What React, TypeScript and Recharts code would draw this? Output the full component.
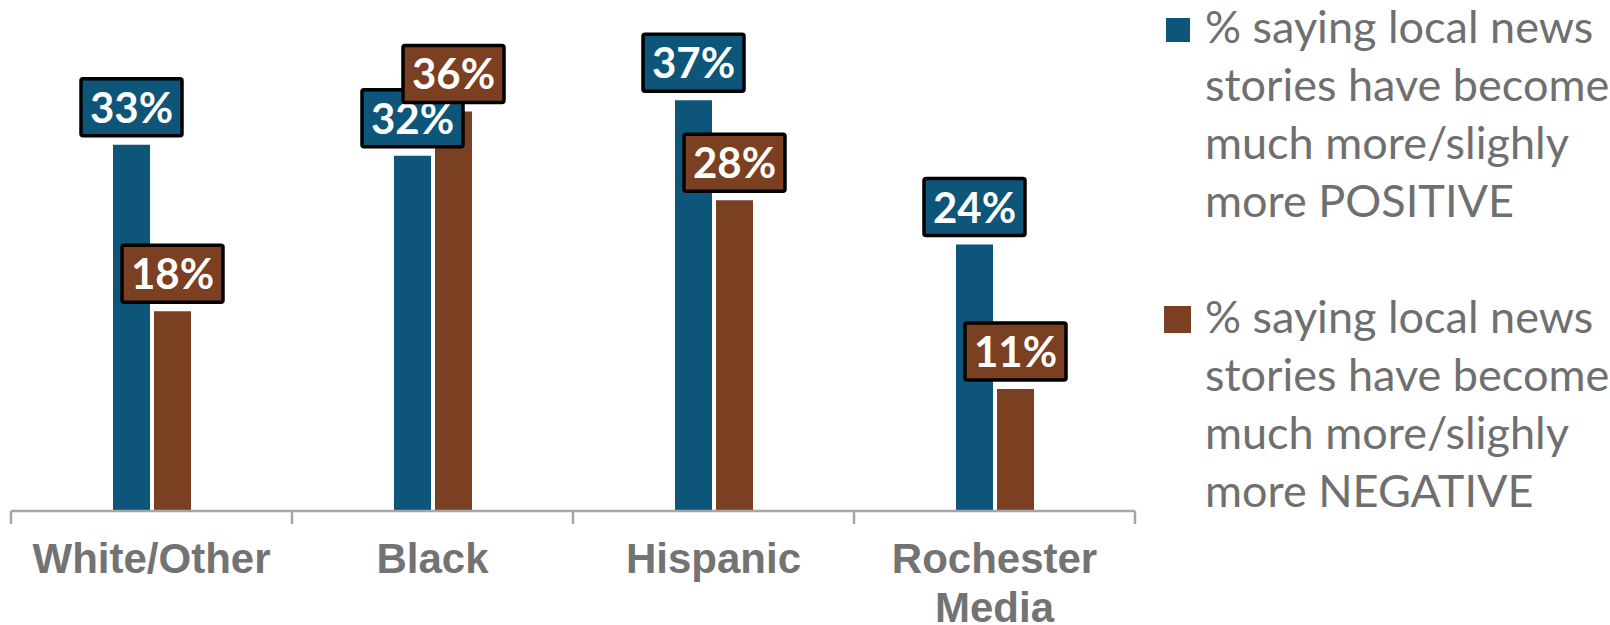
import React from 'react';
import { BarChart, Bar, XAxis, YAxis, Legend, LabelList } from 'recharts';

const categories = ['White/Other', 'Black', 'Hispanic', 'Rochester Media'];
const positiveValues = [33, 32, 37, 24];
const negativeValues = [18, 36, 28, 11];
const seriesNames = [
  '% saying local news stories have become much more/slighly more POSITIVE',
  '% saying local news stories have become much more/slighly more NEGATIVE',
];
const positiveLegendLines = ['% saying local news', 'stories have become', 'much more/slighly', 'more POSITIVE'];
const negativeLegendLines = ['% saying local news', 'stories have become', 'much more/slighly', 'more NEGATIVE'];

const BLUE = '#0D5579';
const BROWN = '#7B3F22';
const AXIS_GRAY = '#A6A6A6';
const BAR_GAP = 4;

const data = categories.map((name, i) => ({
  name,
  positive: positiveValues[i],
  negative: negativeValues[i],
}));

function LabelBox({ cx, top, value, fill }: { cx: number; top: number; value: number; fill: string }) {
  const w = 101;
  const h = 57;
  const y = top - 9 - h;
  return (
    <g>
      <rect x={cx - w / 2} y={y} width={w} height={h} rx={2} fill={fill} stroke="#000" strokeWidth={3.5} />
      <text
        x={cx}
        y={y + 44}
        textAnchor="middle"
        fill="#fff"
        fontFamily="Lato, 'Liberation Sans', sans-serif"
        fontWeight={700}
        fontSize={42}
      >
        {value}%
      </text>
    </g>
  );
}

// blue labels are drawn here too, so they sit above the brown bars
const renderLabels = (props: any) => {
  const { x, y, width, height, index, value } = props;
  const base = Number(y) + Number(height);
  const perUnit = Number(height) / Number(value);
  const blueVal = positiveValues[index];
  const blueCx = Number(x) - BAR_GAP - Number(width) / 2;
  return (
    <g>
      <LabelBox cx={blueCx} top={base - blueVal * perUnit} value={blueVal} fill={BLUE} />
      <LabelBox cx={Number(x) + Number(width) / 2} top={Number(y)} value={Number(value)} fill={BROWN} />
    </g>
  );
};

// tick label plus the tick marks on the category edges
const CategoryTick = (props: any) => {
  const { x, y, payload, index, width, visibleTicksCount } = props;
  const count = visibleTicksCount || categories.length;
  const half = Number(width) / count / 2;
  const lines = String(payload.value).split(' ');
  return (
    <g>
      <line x1={x - half} y1={y} x2={x - half} y2={y + 13} stroke={AXIS_GRAY} strokeWidth={2.5} />
      {index === count - 1 && (
        <line x1={x + half} y1={y} x2={x + half} y2={y + 13} stroke={AXIS_GRAY} strokeWidth={2.5} />
      )}
      <text
        x={x}
        textAnchor="middle"
        fill="#737373"
        fontFamily="'Liberation Sans', Arial, sans-serif"
        fontWeight={700}
        fontSize={42}
      >
        {lines.map((line, i) => (
          <tspan key={line} x={x} y={y + 62 + i * 49}>
            {line}
          </tspan>
        ))}
      </text>
    </g>
  );
};

const legendItems = [
  { lines: positiveLegendLines, color: BLUE, square: { x: 16, y: 18, size: 24 }, top: 43 },
  { lines: negativeLegendLines, color: BROWN, square: { x: 14, y: 306, size: 27 }, top: 333 },
];

const renderLegend = () => (
  <svg width={460} height={625}>
    {legendItems.map((item) => (
      <g key={item.top}>
        <rect x={item.square.x} y={item.square.y} width={item.square.size} height={item.square.size} fill={item.color} />
        <text fill="#6F6F6F" fontFamily="Lato, 'Open Sans', sans-serif" fontSize={45}>
          {item.lines.map((line, i) => (
            <tspan key={i} x={55} y={item.top + i * 58}>
              {line}
            </tspan>
          ))}
        </text>
      </g>
    ))}
  </svg>
);

export default function App() {
  return (
    <div style={{ position: 'absolute', left: 0, top: 0, background: '#fff' }}>
      <BarChart
        width={1610}
        height={625}
        data={data}
        margin={{ top: 67, right: 475, left: 11, bottom: 0 }}
        barGap={BAR_GAP}
        barSize={37}
      >
        <XAxis
          dataKey="name"
          axisLine={{ stroke: AXIS_GRAY, strokeWidth: 2.5 }}
          tickLine={false}
          tickSize={0}
          tickMargin={0}
          height={114}
          interval={0}
          tick={<CategoryTick />}
        />
        <YAxis hide domain={[0, 40]} />
        <Legend
          layout="vertical"
          align="center"
          verticalAlign="middle"
          content={renderLegend}
          wrapperStyle={{ left: 1150, top: 0, width: 460, height: 625 }}
        />
        <Bar dataKey="positive" name={seriesNames[0]} fill={BLUE} isAnimationActive={false} />
        <Bar dataKey="negative" name={seriesNames[1]} fill={BROWN} isAnimationActive={false}>
          <LabelList dataKey="negative" content={renderLabels} />
        </Bar>
      </BarChart>
    </div>
  );
}
